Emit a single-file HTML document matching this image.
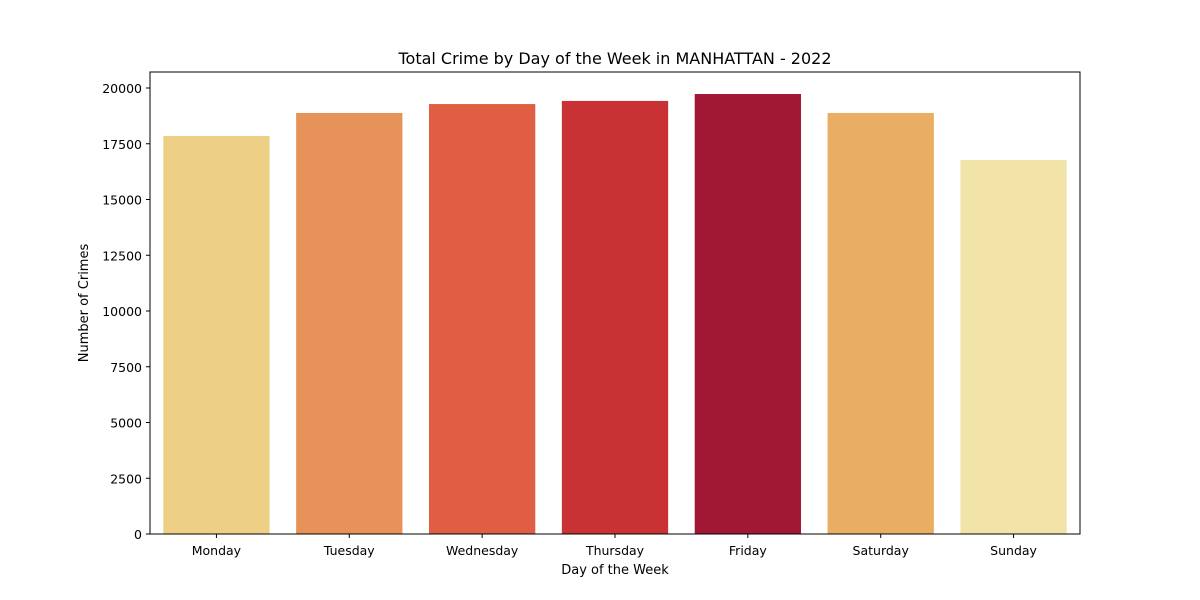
<!DOCTYPE html>
<html><head><meta charset="utf-8"><style>
body{margin:0;background:#fff;}
svg{display:block;font-family:"DejaVu Sans","Liberation Sans",sans-serif;}
</style></head><body>
<svg id="chart" width="1200" height="600" viewBox="0 0 1200 600">
<rect width="1200" height="600" fill="#fff"/>
<text x="615" y="64" text-anchor="middle" font-size="16" fill="#000">Total Crime by Day of the Week in MANHATTAN - 2022</text>
<g id="bars"></g>
<g id="yticks"></g>
<g id="xticks"></g>
<rect x="150" y="72" width="930" height="462" fill="none" stroke="#000" stroke-width="1"/>
<text x="615" y="574" text-anchor="middle" font-size="13">Day of the Week</text>
<text transform="translate(88,303) rotate(-90)" text-anchor="middle" font-size="13">Number of Crimes</text>
</svg>
<script>
const categories=["Monday","Tuesday","Wednesday","Thursday","Friday","Saturday","Sunday"];
const values=[17850,18880,19280,19420,19730,18880,16770];
const barColors=["#edd085","#e69258","#e05e44","#c83235","#a11834","#e9ae63","#f2e4a8"];
const yTicks=[0,2500,5000,7500,10000,12500,15000,17500,20000];
const NS="http://www.w3.org/2000/svg";
const x0=150,x1=1080,yBase=534,yTop=88;
const y=v=>yBase-(v/20000)*(yBase-yTop);
const band=(x1-x0)/categories.length;
const xc=i=>x0+band*(i+0.5);
const bw=band*0.8;
const bars=document.getElementById('bars'),yt=document.getElementById('yticks'),xt=document.getElementById('xticks');
function mk(tag,attrs){const e=document.createElementNS(NS,tag);for(const k in attrs)e.setAttribute(k,attrs[k]);return e;}
categories.forEach((c,i)=>{
  const r=mk('rect',{x:xc(i)-bw/2,y:y(values[i]),width:bw,height:yBase-y(values[i]),fill:barColors[i]});
  
  
  bars.appendChild(r);
  const t=mk('line',{x1:xc(i),x2:xc(i),y1:yBase,y2:yBase+4,stroke:'#000'});
  
  
  xt.appendChild(t);
  const l=mk('text',{x:xc(i),y:yBase+21,'text-anchor':'middle','font-size':12.5});
  l.textContent=c;
  
  
  xt.appendChild(l);
});
yTicks.forEach(v=>{
  const t=mk('line',{x1:x0-4,x2:x0,y1:y(v),y2:y(v),stroke:'#000'});
  
  
  yt.appendChild(t);
  const l=mk('text',{x:x0-8,y:y(v)+5,'text-anchor':'end','font-size':12.5});
  l.textContent=v;
  
  
  yt.appendChild(l);
});
</script>
</body></html>
